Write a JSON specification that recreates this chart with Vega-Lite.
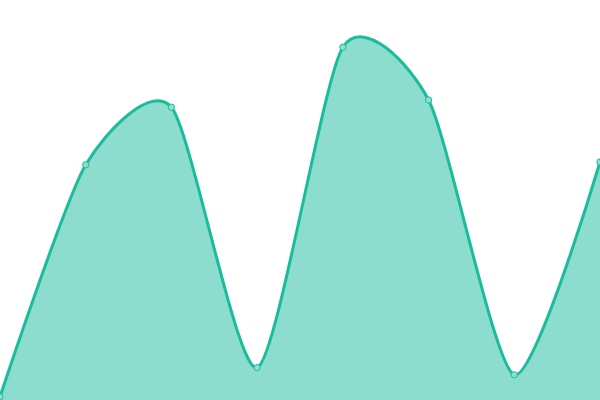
{
  "$schema": "https://vega.github.io/schema/vega-lite/v6.json",
  "width": 600,
  "height": 400,
  "autosize": {"type": "fit", "contains": "padding"},
  "padding": 0,
  "config": {"view": {"stroke": null}},
  "data": {"values": [
    {"x": 0, "y": 0.8},
    {"x": 1, "y": 58.8},
    {"x": 2, "y": 73.2},
    {"x": 3, "y": 8.1},
    {"x": 4, "y": 88.2},
    {"x": 5, "y": 75},
    {"x": 6, "y": 6.3},
    {"x": 7, "y": 59.5}
  ]},
  "encoding": {
    "x": {"field": "x", "type": "quantitative", "scale": {"domain": [0, 7], "nice": false}, "axis": null},
    "y": {"field": "y", "type": "quantitative", "scale": {"domain": [0, 100], "nice": false}, "axis": null}
  },
  "layer": [
    {"mark": {"type": "area", "interpolate": "cardinal", "tension": 0.3, "color": "#1abc9c", "opacity": 0.5, "clip": true}},
    {"mark": {"type": "line", "interpolate": "cardinal", "tension": 0.3, "color": "#1abc9c", "strokeWidth": 3, "clip": true}},
    {"mark": {"type": "point", "filled": true, "fill": "#8ce0cf", "stroke": "#1abc9c", "strokeWidth": 1, "size": 40, "opacity": 1, "clip": true}}
  ]
}
